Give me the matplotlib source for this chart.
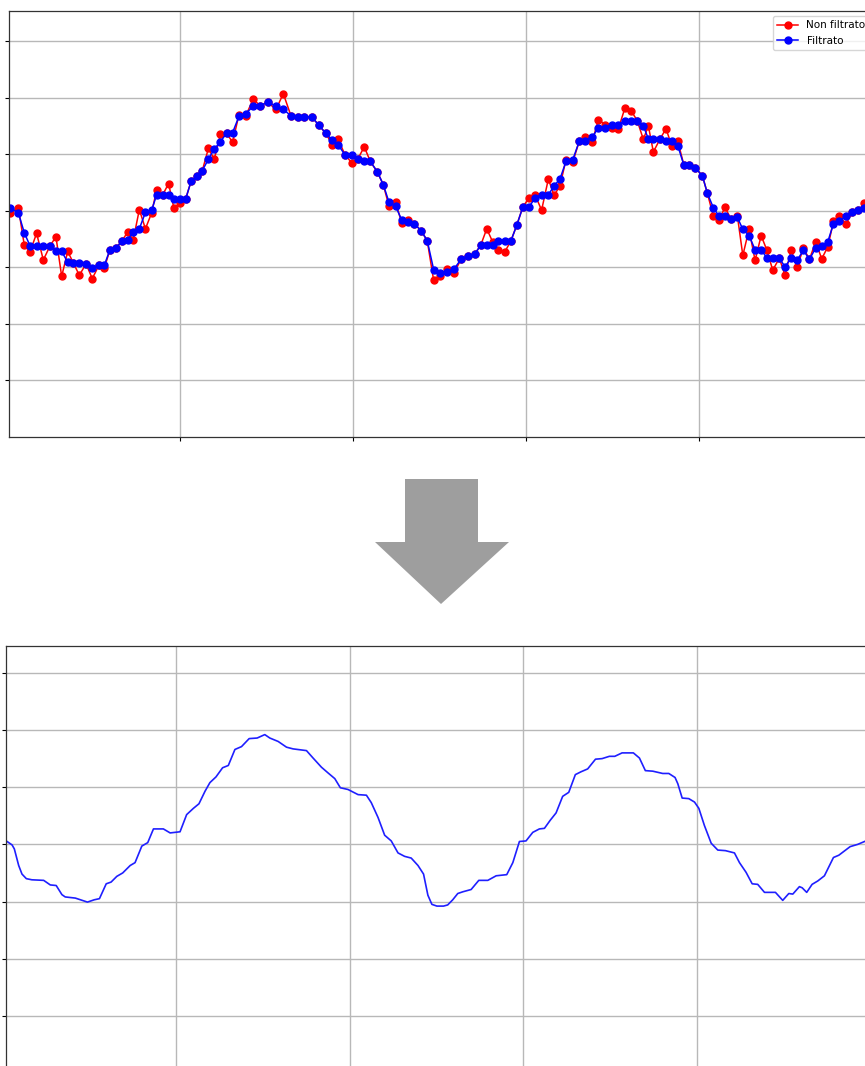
import numpy as np
import matplotlib
matplotlib.use("Agg")
import matplotlib.pyplot as plt
from matplotlib.patches import Polygon

# raw vs filtered samples (irregular sample times)
t_raw = [0.017, 0.066, 0.100, 0.133, 0.171, 0.210, 0.249, 0.283, 0.316, 0.351,
         0.383, 0.418, 0.457, 0.493, 0.532, 0.563, 0.595, 0.630, 0.663, 0.697,
         0.730, 0.765, 0.800, 0.836, 0.865, 0.900, 0.934, 0.965, 1.000, 1.033,
         1.064, 1.100, 1.129, 1.164, 1.198, 1.234, 1.269, 1.304, 1.341, 1.379,
         1.424, 1.462, 1.506, 1.555, 1.597, 1.641, 1.680, 1.718, 1.761, 1.803,
         1.842, 1.880, 1.915, 1.953, 1.992, 2.027, 2.065, 2.100, 2.140, 2.175,
         2.208, 2.246, 2.281, 2.316, 2.354, 2.393, 2.429, 2.466, 2.503, 2.541,
         2.584, 2.624, 2.667, 2.705, 2.738, 2.773, 2.807, 2.840, 2.877, 2.913,
         2.946, 2.981, 3.015, 3.052, 3.090, 3.129, 3.162, 3.196, 3.231, 3.270,
         3.308, 3.343, 3.383, 3.418, 3.457, 3.495, 3.534, 3.572, 3.607, 3.643,
         3.678, 3.707, 3.736, 3.775, 3.809, 3.842, 3.877, 3.913, 3.944, 3.977,
         4.019, 4.048, 4.083, 4.116, 4.150, 4.185, 4.222, 4.253, 4.289, 4.324,
         4.359, 4.391, 4.426, 4.464, 4.497, 4.532, 4.568, 4.603, 4.638, 4.674,
         4.709, 4.744, 4.777, 4.811, 4.850, 4.886, 4.921, 4.956]

non_filtrato = [3.96, 4.05, 3.39, 3.27, 3.60, 3.13, 3.38, 3.54, 2.84, 3.28,
                3.08, 2.86, 3.06, 2.80, 3.04, 2.99, 3.31, 3.34, 3.46, 3.62,
                3.49, 4.02, 3.68, 3.96, 4.37, 4.28, 4.48, 4.04, 4.13, 4.21,
                4.52, 4.62, 4.71, 5.10, 4.91, 5.35, 5.37, 5.21, 5.70, 5.67,
                5.98, 5.85, 5.92, 5.79, 6.07, 5.68, 5.66, 5.66, 5.66, 5.51,
                5.37, 5.17, 5.26, 4.99, 4.85, 4.91, 5.13, 4.87, 4.69, 4.46,
                4.08, 4.15, 3.79, 3.84, 3.77, 3.65, 3.47, 2.77, 2.84, 2.97,
                2.90, 3.14, 3.20, 3.24, 3.39, 3.68, 3.45, 3.30, 3.27, 3.47,
                3.74, 4.06, 4.22, 4.28, 4.01, 4.56, 4.27, 4.44, 4.90, 4.86,
                5.23, 5.31, 5.22, 5.61, 5.52, 5.47, 5.45, 5.82, 5.77, 5.59,
                5.26, 5.50, 5.04, 5.27, 5.45, 5.15, 5.23, 4.80, 4.80, 4.76,
                4.62, 4.31, 3.90, 3.84, 4.06, 3.85, 3.90, 3.21, 3.67, 3.12,
                3.56, 3.31, 2.95, 3.16, 2.86, 3.30, 3.01, 3.34, 3.14, 3.45,
                3.15, 3.36, 3.81, 3.90, 3.77, 3.97, 4.01, 4.13]

filtrato = [4.05, 3.96, 3.61, 3.38, 3.38, 3.37, 3.38, 3.28, 3.28, 3.09,
            3.08, 3.07, 3.05, 2.99, 3.04, 3.04, 3.31, 3.34, 3.46, 3.49,
            3.62, 3.68, 3.97, 4.01, 4.28, 4.28, 4.28, 4.21, 4.21, 4.21,
            4.52, 4.62, 4.71, 4.91, 5.09, 5.22, 5.37, 5.38, 5.67, 5.71,
            5.85, 5.85, 5.92, 5.85, 5.79, 5.68, 5.66, 5.66, 5.66, 5.51,
            5.37, 5.25, 5.16, 4.99, 4.99, 4.91, 4.87, 4.87, 4.69, 4.46,
            4.15, 4.08, 3.84, 3.80, 3.77, 3.65, 3.47, 2.96, 2.90, 2.91,
            2.97, 3.14, 3.20, 3.24, 3.39, 3.39, 3.39, 3.47, 3.47, 3.47,
            3.74, 4.06, 4.06, 4.22, 4.28, 4.28, 4.44, 4.56, 4.87, 4.90,
            5.23, 5.24, 5.30, 5.47, 5.47, 5.52, 5.52, 5.59, 5.59, 5.59,
            5.50, 5.27, 5.26, 5.27, 5.23, 5.23, 5.15, 4.80, 4.80, 4.76,
            4.62, 4.31, 4.05, 3.90, 3.90, 3.85, 3.88, 3.67, 3.56, 3.31,
            3.31, 3.17, 3.16, 3.16, 3.01, 3.16, 3.13, 3.30, 3.14, 3.34,
            3.37, 3.45, 3.77, 3.81, 3.90, 3.97, 4.01, 4.05]

# smoothed signal
t_smooth = [0.027, 0.056, 0.069, 0.094, 0.113, 0.138, 0.170, 0.238, 0.276, 0.310,
            0.343, 0.362, 0.420, 0.490, 0.529, 0.559, 0.598, 0.626, 0.659, 0.693,
            0.736, 0.764, 0.803, 0.837, 0.870, 0.927, 0.966, 1.023, 1.061, 1.100,
            1.132, 1.167, 1.195, 1.230, 1.268, 1.301, 1.339, 1.377, 1.421, 1.467,
            1.511, 1.540, 1.588, 1.636, 1.674, 1.751, 1.789, 1.837, 1.875, 1.914,
            1.946, 1.990, 2.048, 2.096, 2.124, 2.163, 2.201, 2.239, 2.278, 2.316,
            2.354, 2.393, 2.425, 2.450, 2.473, 2.502, 2.540, 2.564, 2.593, 2.622,
            2.651, 2.699, 2.743, 2.795, 2.843, 2.904, 2.939, 2.977, 3.015, 3.054,
            3.092, 3.121, 3.154, 3.188, 3.226, 3.261, 3.299, 3.332, 3.370, 3.415,
            3.453, 3.495, 3.526, 3.568, 3.633, 3.668, 3.702, 3.745, 3.802, 3.837,
            3.873, 3.889, 3.914, 3.952, 3.985, 4.010, 4.042, 4.081, 4.119, 4.163,
            4.215, 4.244, 4.282, 4.317, 4.349, 4.388, 4.451, 4.493, 4.528, 4.551,
            4.589, 4.605, 4.631, 4.662, 4.695, 4.733, 4.785, 4.816, 4.881, 4.925,
            4.964]

smooth = [4.05, 3.99, 3.92, 3.63, 3.48, 3.40, 3.38, 3.37, 3.29, 3.28,
          3.12, 3.08, 3.06, 2.99, 3.03, 3.05, 3.31, 3.34, 3.44, 3.50,
          3.63, 3.68, 3.97, 4.03, 4.27, 4.27, 4.20, 4.22, 4.52, 4.63,
          4.71, 4.93, 5.08, 5.18, 5.34, 5.38, 5.66, 5.71, 5.85, 5.86,
          5.92, 5.86, 5.80, 5.70, 5.67, 5.64, 5.51, 5.35, 5.25, 5.15,
          4.99, 4.96, 4.87, 4.86, 4.73, 4.47, 4.16, 4.06, 3.85, 3.79,
          3.76, 3.63, 3.48, 3.11, 2.95, 2.92, 2.92, 2.94, 3.03, 3.14,
          3.17, 3.21, 3.37, 3.37, 3.45, 3.47, 3.68, 4.05, 4.06, 4.21,
          4.27, 4.28, 4.42, 4.55, 4.84, 4.91, 5.22, 5.27, 5.32, 5.49,
          5.50, 5.54, 5.54, 5.60, 5.60, 5.51, 5.29, 5.28, 5.24, 5.24,
          5.17, 5.06, 4.81, 4.80, 4.74, 4.63, 4.33, 4.02, 3.90, 3.89,
          3.85, 3.68, 3.51, 3.31, 3.30, 3.16, 3.16, 3.02, 3.14, 3.13,
          3.26, 3.24, 3.16, 3.30, 3.36, 3.45, 3.77, 3.81, 3.96, 4.00,
          4.05]

W, H = 865, 1066
fig = plt.figure(figsize=(W / 100, H / 100), dpi=100)


def px_axes(x0, y0, x1, y1):
    # axes box given in pixel coords, origin top-left
    return fig.add_axes([x0 / W, 1 - y1 / H, (x1 - x0) / W, (y1 - y0) / H])


def style(ax):
    ax.set_xticks([1, 2, 3, 4, 5])
    ax.set_yticks([1, 2, 3, 4, 5, 6, 7])
    ax.tick_params(labelbottom=False, labelleft=False, length=3, width=0.8)
    ax.grid(True, color="#b8b8b8", linewidth=1.0)
    ax.set_axisbelow(True)
    for s in ax.spines.values():
        s.set_color("#333333")
        s.set_linewidth(0.9)


ax1 = px_axes(9, 11, 875, 437)
ax1.plot(t_raw, non_filtrato, "-o", color="red", lw=1.1, ms=5, label="Non filtrato")
ax1.plot(t_raw, filtrato, "-o", color="blue", lw=1.1, ms=5, label="Filtrato")
ax1.set_xlim(0.0116, 5.017)
ax1.set_ylim(0, 7.53)
style(ax1)
ax1.legend(loc="upper right", fontsize=7.5, handlelength=2.0)

ax2 = px_axes(6, 646, 880, 1073)
ax2.plot(t_smooth, smooth, color="#1f1fff", lw=1.2)
ax2.set_xlim(0.021, 5.053)
ax2.set_ylim(0, 7.47)
style(ax2)

# grey arrow between the two panels
arrow_px = [(405, 479), (478, 479), (478, 542), (509, 542), (441, 604),
            (375, 542), (405, 542)]
fig.patches.append(Polygon([(x / W, 1 - y / H) for x, y in arrow_px],
                           closed=True, transform=fig.transFigure,
                           facecolor="#9e9e9e", edgecolor="none"))

fig.savefig("out.png", dpi=100)
